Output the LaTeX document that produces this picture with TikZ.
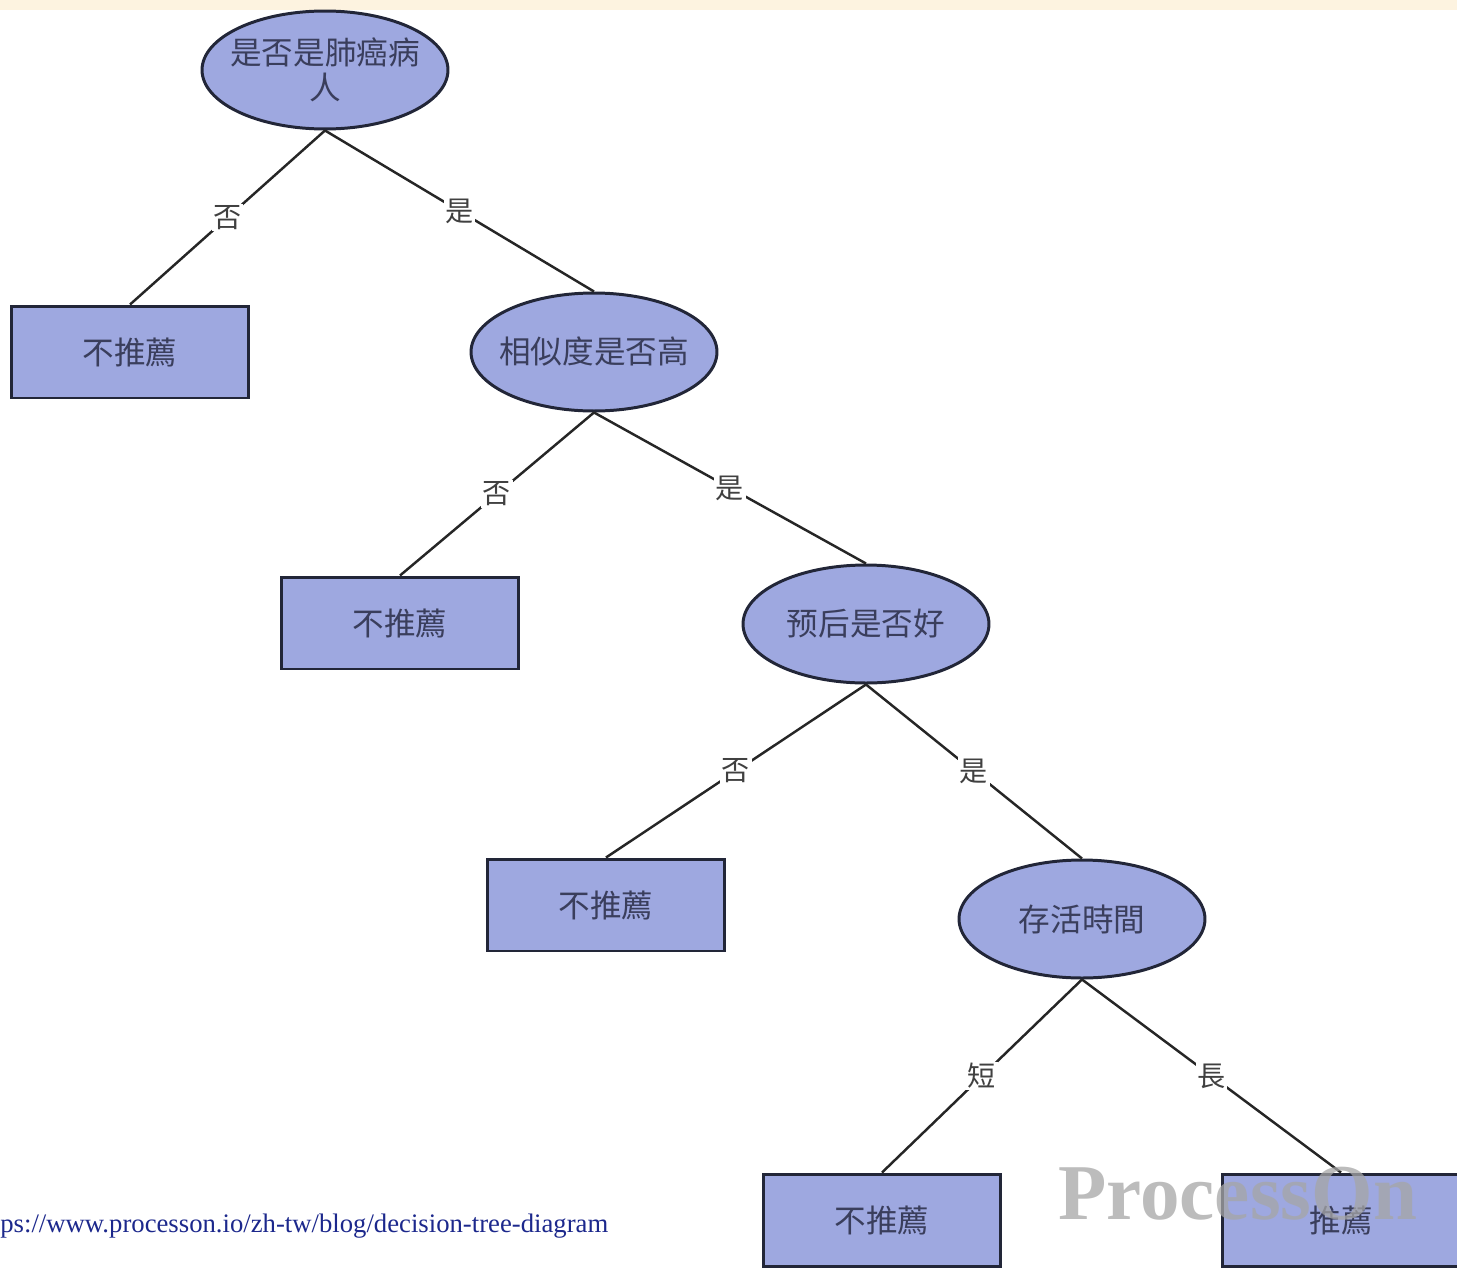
\documentclass[tikz,border=0pt]{standalone}
\usepackage{fontspec}
\setmainfont{Liberation Serif}
\newfontfamily\cjk{Noto Sans CJK TC}
\usepackage{xcolor}
\usetikzlibrary{shapes.geometric, positioning}
\definecolor{nodefill}{RGB}{158,168,224}
\definecolor{nodeline}{RGB}{34,38,56}
\definecolor{nodetext}{RGB}{58,62,92}
\definecolor{topstrip}{RGB}{253,243,224}
\definecolor{urlblue}{RGB}{28,40,140}

\begin{document}
\begin{tikzpicture}[
        x=0.02cm, y=-0.02cm,
        question/.style={ellipse, draw=nodeline, line width=1.7pt, fill=nodefill, inner xsep=-0.4cm, inner ysep=0pt, minimum width=4.92cm, minimum height=2.36cm, align=center, text=nodetext, font=\cjk\fontsize{18}{20}\selectfont},
        leaf/.style={rectangle, draw=nodeline, line width=1.7pt, fill=nodefill, minimum width=4.76cm, minimum height=1.84cm, align=center, text=nodetext, font=\cjk\fontsize{18}{20}\selectfont},
        branch/.style={line width=1.4pt, draw=black!85},
        answer/.style={midway, fill=white, inner sep=1pt, text=black!75, font=\cjk\fontsize{16}{18}\selectfont}
    ]
        \useasboundingbox (0,0) rectangle (1457,1268);
        \fill[topstrip] (0,0) rectangle (1457,10);

        \node[question] (lungcancer) at (325,70) {是否是肺癌病\\人};
        \node[leaf] (leafA) at (130,352) {不推薦};
        \node[question] (similar) at (594,352) {相似度是否高};
        \node[leaf] (leafB) at (400,623) {不推薦};
        \node[question] (prognosis) at (866,624) {预后是否好};
        \node[leaf] (leafC) at (606,905) {不推薦};
        \node[question] (survival) at (1082,919) {存活時間};
        \node[leaf] (leafD) at (882,1220) {不推薦};
        \node[leaf] (leafE) at (1341,1220) {推薦};

        \draw[branch] (lungcancer.south) -- node[answer] {否} (leafA.north);
        \draw[branch] (lungcancer.south) -- node[answer] {是} (similar.north);
        \draw[branch] (similar.south) -- node[answer] {否} (leafB.north);
        \draw[branch] (similar.south) -- node[answer] {是} (prognosis.north);
        \draw[branch] (prognosis.south) -- node[answer] {否} (leafC.north);
        \draw[branch] (prognosis.south) -- node[answer] {是} (survival.north);
        \draw[branch] (survival.south) -- node[answer] {短} (leafD.north);
        \draw[branch] (survival.south) -- node[answer] {長} (leafE.north);

        % watermark and source line
        \node[anchor=base west, inner sep=0pt, text=black!35, text opacity=0.75, font=\fontsize{45}{45}\selectfont\bfseries] (watermark) at (1058,1219) {ProcessOn};
        \node[anchor=base west, inner sep=0pt, text=urlblue, font=\fontsize{15.2}{18}\selectfont] (source) at (0,1232) {ps://www.processon.io/zh-tw/blog/decision-tree-diagram};
    \end{tikzpicture}
\end{document}
